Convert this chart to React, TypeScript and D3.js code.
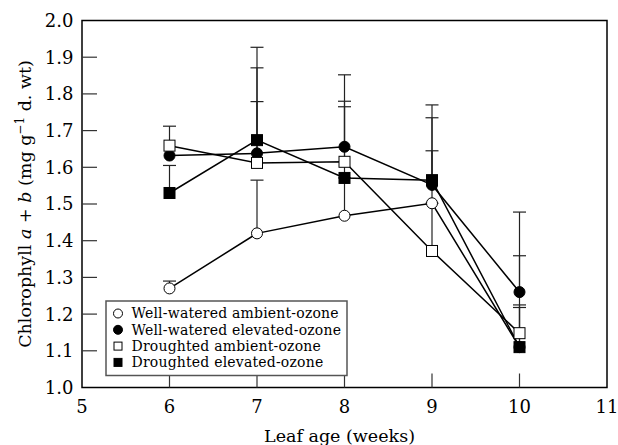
import React from 'react';
import * as d3 from 'd3';

// leaf age in weeks
const weeks = [6, 7, 8, 9, 10];

// means
const wwAmbient = [1.27, 1.42, 1.468, 1.502, 1.11];
const wwElevated = [1.632, 1.638, 1.656, 1.552, 1.26];
const drAmbient = [1.659, 1.612, 1.615, 1.372, 1.148];
const drElevated = [1.53, 1.674, 1.571, 1.565, 1.11];

// top of the (one-sided) error bars
const wwAmbientTop = [1.29, 1.565, 1.571, 1.645, 1.218];
const wwElevatedTop = [1.632, 1.871, 1.852, 1.735, 1.478];
const drAmbientTop = [1.712, 1.779, 1.78, 1.502, 1.359];
const drElevatedTop = [1.605, 1.927, 1.765, 1.77, 1.225];

const xTicks = [5, 6, 7, 8, 9, 10, 11];
const yTicks = [1.0, 1.1, 1.2, 1.3, 1.4, 1.5, 1.6, 1.7, 1.8, 1.9, 2.0];

const series = [
  { name: 'Well-watered ambient-ozone', mean: wwAmbient, top: wwAmbientTop, shape: 'circle', fill: 'white' },
  { name: 'Well-watered elevated-ozone', mean: wwElevated, top: wwElevatedTop, shape: 'circle', fill: 'black' },
  { name: 'Droughted ambient-ozone', mean: drAmbient, top: drAmbientTop, shape: 'square', fill: 'white' },
  { name: 'Droughted elevated-ozone', mean: drElevated, top: drElevatedTop, shape: 'square', fill: 'black' },
];

const W = 618;
const H = 445;
const margin = { top: 20.5, right: 11, bottom: 57.5, left: 82 };
const font = '"DejaVu Serif", serif';

const Marker = ({ shape, fill, x, y, size }: { shape: string; fill: string; x: number; y: number; size: number }) =>
  shape === 'circle' ? (
    <circle cx={x} cy={y} r={size / 2} fill={fill} stroke="black" strokeWidth={1} />
  ) : (
    <rect x={x - size / 2} y={y - size / 2} width={size} height={size} fill={fill} stroke="black" strokeWidth={1} />
  );

export default function App() {
  const innerW = W - margin.left - margin.right;
  const innerH = H - margin.top - margin.bottom;
  const x = d3.scaleLinear().domain([5, 11]).range([margin.left, margin.left + innerW]);
  const y = d3.scaleLinear().domain([1.0, 2.0]).range([margin.top + innerH, margin.top]);

  const line = d3
    .line<number>()
    .x((_, i) => x(weeks[i]))
    .y((d) => y(d));

  // legend box
  const legX = 106;
  const legY = 301;
  const legW = 241;
  const legH = 74.5;
  const rowH = 16.3;

  return (
    <svg width={W} height={H} style={{ position: 'absolute', left: 0, top: 0, background: 'white' }} fontFamily={font}>
      {/* frame */}
      <rect x={margin.left} y={margin.top} width={innerW} height={innerH} fill="none" stroke="black" strokeWidth={1.5} />

      {/* y ticks, inward */}
      {yTicks.map((t) => (
        <g key={'y' + t}>
          {t > 1.0 && t < 2.0 && (
            <line x1={margin.left} x2={margin.left + 15} y1={y(t)} y2={y(t)} stroke="#333" strokeWidth={1.2} />
          )}
          <text x={73.5} y={y(t)} dy="0.36em" textAnchor="end" fontSize={18}>
            {t.toFixed(1)}
          </text>
        </g>
      ))}

      {/* x ticks, inward */}
      {xTicks.map((t) => (
        <g key={'x' + t}>
          {t > 5 && t < 11 && (
            <line x1={x(t)} x2={x(t)} y1={y(1.0)} y2={y(1.0) - 14} stroke="#333" strokeWidth={1.2} />
          )}
          <text x={x(t)} y={412.5} textAnchor="middle" fontSize={18}>
            {t}
          </text>
        </g>
      ))}

      <text x={x(8) - 5} y={441.5} textAnchor="middle" fontSize={17.5}>
        Leaf age (weeks)
      </text>

      <text transform={`translate(31,${(margin.top + margin.top + innerH) / 2}) rotate(-90)`} textAnchor="middle" fontSize={17.5}>
        Chlorophyll <tspan fontStyle="italic">a</tspan> + <tspan fontStyle="italic">b</tspan> (mg g
        <tspan fontSize={12} dy={-7}>−1</tspan>
        <tspan dy={7}> d. wt)</tspan>
      </text>

      {/* error bars */}
      {series.map((s) =>
        s.mean.map((m, i) =>
          s.top[i] > m + 0.005 ? (
            <g key={s.name + i}>
              <line x1={x(weeks[i])} x2={x(weeks[i])} y1={y(m)} y2={y(s.top[i])} stroke="#222" strokeWidth={1.2} />
              <line x1={x(weeks[i]) - 6.5} x2={x(weeks[i]) + 6.5} y1={y(s.top[i])} y2={y(s.top[i])} stroke="#222" strokeWidth={1.2} />
            </g>
          ) : null
        )
      )}

      {/* lines */}
      {series.map((s) => (
        <path key={s.name} d={line(s.mean) || ''} fill="none" stroke="black" strokeWidth={1.5} />
      ))}

      {/* markers */}
      {series.map((s) =>
        s.mean.map((m, i) => (
          <Marker key={s.name + 'm' + i} shape={s.shape} fill={s.fill} x={x(weeks[i])} y={y(m)} size={11} />
        ))
      )}

      {/* legend */}
      <rect x={legX} y={legY} width={legW} height={legH} fill="white" stroke="#555" strokeWidth={1.5} />
      {series.map((s, i) => (
        <g key={'leg' + s.name}>
          <Marker shape={s.shape} fill={s.fill} x={118} y={313.5 + i * rowH} size={s.shape === 'circle' ? 9 : 8} />
          <text x={131.5} y={313.5 + i * rowH} dy="0.35em" fontSize={14} letterSpacing={0.2}>
            {s.name}
          </text>
        </g>
      ))}
    </svg>
  );
}
